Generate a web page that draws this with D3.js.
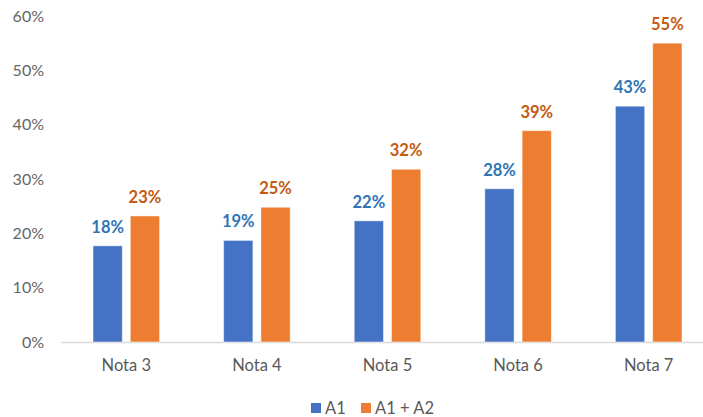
<!DOCTYPE html>
<html>
<head>
<meta charset="utf-8">
<script src="https://cdn.jsdelivr.net/npm/d3@7"></script>
<style>
  body { margin: 0; background: #fff; }
  svg { display: block; font-family: Lato, "Open Sans", sans-serif; }
</style>
</head>
<body>
<div id="viz"></div>
<script>
// values
var categories = ['Nota 3', 'Nota 4', 'Nota 5', 'Nota 6', 'Nota 7'];
var seriesNames = ['A1', 'A1 + A2'];
var a1 = [0.177, 0.187, 0.223, 0.282, 0.434];
var a1a2 = [0.232, 0.248, 0.318, 0.389, 0.550];
var a1Labels = ['18%', '19%', '22%', '28%', '43%'];
var a1a2Labels = ['23%', '25%', '32%', '39%', '55%'];
var yTicks = [0, 0.1, 0.2, 0.3, 0.4, 0.5, 0.6];

var width = 703, height = 417;
var barColors = ['#4472C4', '#ED7D31'];
var labelColors = ['#2E75B6', '#C55A11'];

var svg = d3.select('#viz').append('svg')
  .attr('width', width)
  .attr('height', height);

var x0 = d3.scaleBand()
  .domain(categories)
  .range([61, 714]);

var x1 = d3.scaleBand()
  .domain(seriesNames)
  .range([0, 66.6])
  .paddingInner(0.214);

var y = d3.scaleLinear()
  .domain([0, 0.6])
  .range([342, 16]);

// y axis, labels only
var yAxis = d3.axisLeft(y)
  .tickValues(yTicks)
  .tickFormat(d3.format('.0%'))
  .tickSize(0)
  .tickPadding(0);

svg.append('g')
  .attr('transform', 'translate(44,0)')
  .call(yAxis)
  .call(g => g.select('.domain').remove())
  .selectAll('text')
    .attr('fill', '#666666')
    .style('font-size', '16px')
    .style('font-family', 'Lato, sans-serif');

// x axis
var xAxis = d3.axisBottom(x0).tickSize(0).tickPadding(17);
svg.append('g')
  .attr('transform', 'translate(0,' + y(0) + ')')
  .call(xAxis)
  .call(g => g.select('.domain').attr('stroke', '#D9D9D9').attr('stroke-width', 1.5))
  .selectAll('text')
    .attr('fill', '#595959')
    .style('font-size', '16.5px')
    .style('font-family', 'Lato, sans-serif');

var rows = categories.map(function(c, i) {
  return { cat: c, vals: [
    { key: 'A1', v: a1[i], label: a1Labels[i], s: 0 },
    { key: 'A1 + A2', v: a1a2[i], label: a1a2Labels[i], s: 1 }
  ]};
});

var groups = svg.append('g').selectAll('g')
  .data(rows)
  .enter().append('g')
  .attr('transform', d => 'translate(' + (x0(d.cat) + x0.bandwidth() / 2 - 33.3) + ',0)');

groups.selectAll('rect')
  .data(d => d.vals)
  .enter().append('rect')
  .attr('x', d => x1(d.key))
  .attr('width', x1.bandwidth())
  .attr('y', d => y(d.v))
  .attr('height', d => y(0) - y(d.v))
  .attr('fill', d => barColors[d.s])
  .attr('stroke', 'rgba(255,255,255,0.5)')
  .attr('stroke-width', 1);

groups.selectAll('text.lbl')
  .data(d => d.vals)
  .enter().append('text')
  .attr('class', 'lbl')
  .attr('x', d => x1(d.key) + x1.bandwidth() / 2)
  .attr('y', d => y(d.v) - 13)
  .attr('text-anchor', 'middle')
  .attr('fill', d => labelColors[d.s])
  .style('font-size', '16.5px')
  .style('font-weight', 'bold')
  .text(d => d.label);

// legend
var legendX = [311, 361];
var legend = svg.append('g').selectAll('g')
  .data(seriesNames)
  .enter().append('g')
  .attr('transform', (d, i) => 'translate(' + legendX[i] + ',403)');

legend.append('rect')
  .attr('width', 10)
  .attr('height', 10)
  .attr('fill', (d, i) => barColors[i]);

legend.append('text')
  .attr('x', 14)
  .attr('y', 11)
  .attr('fill', '#595959')
  .style('font-size', '16.5px')
  .text(d => d);
</script>
</body>
</html>
